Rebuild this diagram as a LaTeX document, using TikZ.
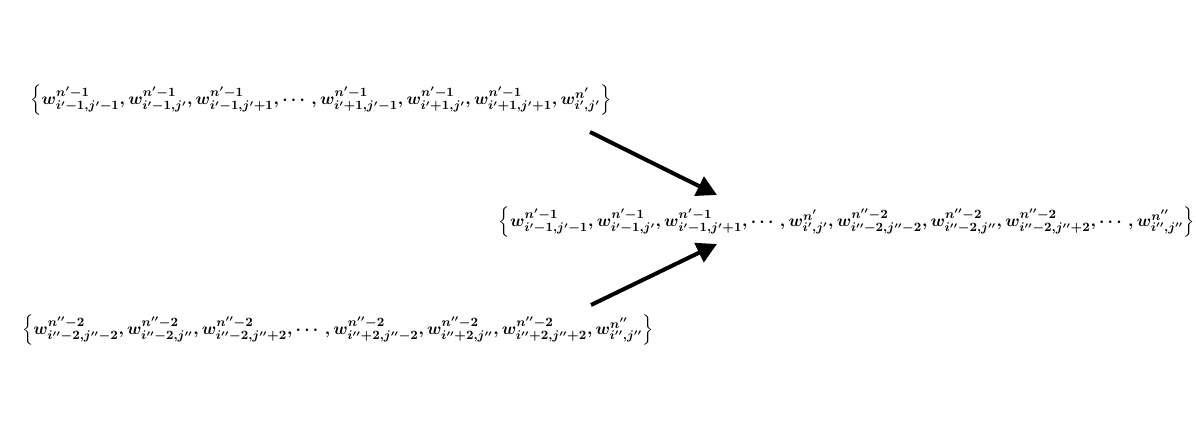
\documentclass[tikz,border=0pt]{standalone}
\usepackage{tikz}
\usetikzlibrary{arrows.meta,calc}
\usepackage{amsmath}

\newcommand{\wt}[3]{w^{#1}_{#2,#3}}

\begin{document}
\begin{tikzpicture}[x=0.025cm,y=-0.025cm,-{Triangle[length=0.5cm,width=0.52cm]},line width=0.1cm,
  every node/.style={inner sep=0pt,font=\fontsize{12.6}{15}\selectfont\boldmath}]
		\useasboundingbox (0,0) rectangle (1196,427);
		\node (old)   at (321,100)  {$\left\{\wt{n'-1}{i'-1}{j'-1},\wt{n'-1}{i'-1}{j'},\wt{n'-1}{i'-1}{j'+1},\cdots,\wt{n'-1}{i'+1}{j'-1},\wt{n'-1}{i'+1}{j'},\wt{n'-1}{i'+1}{j'+1},\wt{n'}{i'}{j'}\right\}$};
		\node (new)   at (847,222)  {$\left\{\wt{n'-1}{i'-1}{j'-1},\wt{n'-1}{i'-1}{j'},\wt{n'-1}{i'-1}{j'+1},\cdots,\wt{n'}{i'}{j'},\wt{n''-2}{i''-2}{j''-2},\wt{n''-2}{i''-2}{j''},\wt{n''-2}{i''-2}{j''+2},\cdots,\wt{n''}{i''}{j''}\right\}$};
		\node (older) at (338,330)  {$\left\{\wt{n''-2}{i''-2}{j''-2},\wt{n''-2}{i''-2}{j''},\wt{n''-2}{i''-2}{j''+2},\cdots,\wt{n''-2}{i''+2}{j''-2},\wt{n''-2}{i''+2}{j''},\wt{n''-2}{i''+2}{j''+2},\wt{n''}{i''}{j''}\right\}$};

		\coordinate (a1) at ($(old.center)+(269,32)$);
		\coordinate (a2) at ($(older.center)+(253,-25)$);
		\coordinate (b1) at ($(new.center)+(-130,-27)$);
		\coordinate (b2) at ($(new.center)+(-130,22)$);

		\draw (a1) -- (b1);
		\draw (a2) -- (b2);
\end{tikzpicture}
\end{document}
